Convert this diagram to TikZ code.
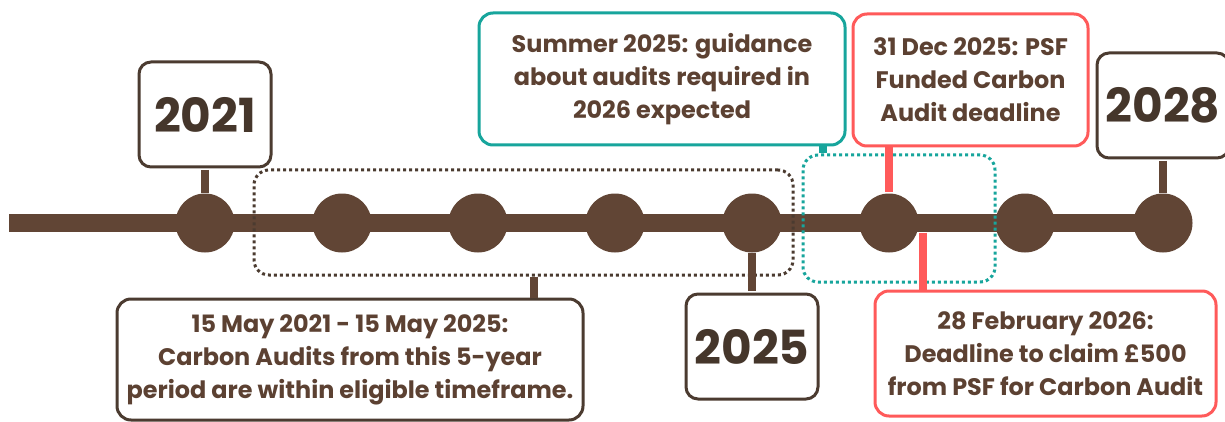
\documentclass[tikz,border=0pt]{standalone}
\usepackage{fontspec}
\setmainfont{Poppins}
\usetikzlibrary{positioning, backgrounds}
\definecolor{linebrown}{HTML}{614535}
\definecolor{boxbrown}{HTML}{4B3B30}
\definecolor{notetext}{HTML}{5C4132}
\definecolor{yeartext}{HTML}{45362B}
\definecolor{notered}{HTML}{FF5A5A}
\definecolor{noteteal}{HTML}{17A59C}

\begin{document}
\begin{tikzpicture}[x=1pt, y=-1pt,
    yeardot/.style={
        circle,
        fill=linebrown,
        minimum size=59pt,
        inner sep=0pt
    },
    yearbox/.style={
        draw=boxbrown,
        line width=3pt,
        rounded corners=12pt,
        fill=white,
        minimum width=132pt,
        minimum height=105pt,
        text=yeartext,
        font=\fontsize{47}{47}\selectfont\bfseries
    },
    notebox/.style={
        draw,
        line width=3pt,
        rounded corners=14pt,
        fill=white,
        align=center,
        inner sep=0pt,
        text=notetext,
        font=\fontsize{23.9}{33}\selectfont\bfseries
    },
    periodbox/.style={
        draw,
        line width=3pt,
        dash pattern=on 3pt off 3pt,
        rounded corners=15pt,
        inner sep=0pt
    },
    stem/.style={line width=8.5pt, shorten <=1.5pt}
]
\useasboundingbox (0,0) rectangle (1225,422);

% Timeline dots
\foreach \i/\x in {1/205, 2/342, 3/478, 4/615, 5/752, 6/889, 7/1025, 8/1163}
    \node[yeardot] (d\i) at (\x,223) {};

% Timeline bar
\coordinate (start) at (9,223);
\begin{scope}[on background layer]
\draw[line width=18pt, linebrown] (start) -- (d8.center);
\end{scope}

% Dotted periods
\node[periodbox, draw=boxbrown, minimum width=539pt, minimum height=105pt] (span) at (523.5,222.5) {};
\node[periodbox, draw=noteteal, minimum width=192pt, minimum height=127pt] (gap) at (899,218.5) {};

% Year labels
\node[yearbox] (y2021) at (205,114.5) {2021};
\node[yearbox] (y2025) at (752,346.5) {2025};
\node[yearbox] (y2028) at (1163,105.5) {2028};

% Notes
\node[notebox, draw=boxbrown, minimum width=466pt, minimum height=121pt] (may) at (350,359.5)
    {15 May 2021 - 15 May 2025:\\Carbon Audits from this 5-year\\period are within eligible timeframe.};
\node[notebox, draw=noteteal, minimum width=366pt, minimum height=132pt] (summer) at (662,79)
    {Summer 2025: guidance\\about audits required in\\2026 expected};
\node[notebox, draw=notered, minimum width=235pt, minimum height=132pt] (dec) at (970.5,80)
    {31 Dec 2025: PSF\\Funded Carbon\\Audit deadline};
\node[notebox, draw=notered, minimum width=341pt, minimum height=125pt] (feb) at (1045.5,353.5)
    {28 February 2026:\\Deadline to claim £500\\from PSF for Carbon Audit};

% Stems
\draw[stem, linebrown] (y2021) -- (d1);
\draw[stem, linebrown] (y2025) -- (d5);
\draw[stem, linebrown] (y2028) -- (d8);
\coordinate (spanstem) at (534,275);
\draw[stem, linebrown] (spanstem) -- (spanstem |- may.north);
\coordinate (sumstem) at (823,145);
\draw[stem, noteteal] (sumstem) -- (sumstem |- gap.north);
\draw[stem, notered] (d6.north) -- (d6 |- dec.south);
\coordinate (febstem) at (923,231);
\draw[stem, notered] (febstem) -- (febstem |- feb.north);

\end{tikzpicture}
\end{document}
